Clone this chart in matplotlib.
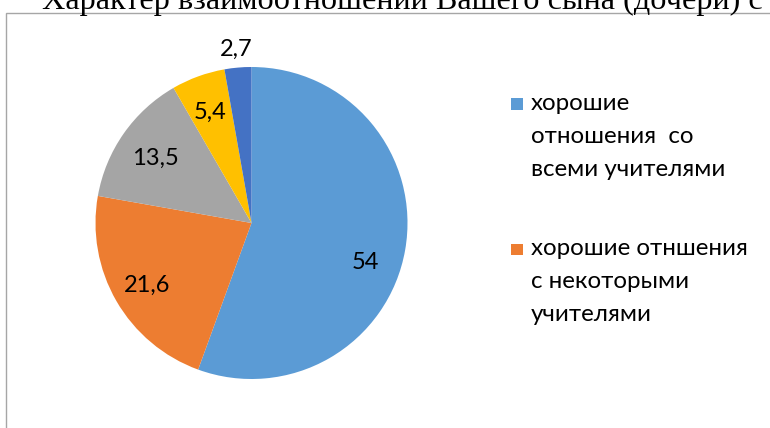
import matplotlib
matplotlib.use('Agg')
import matplotlib.pyplot as plt
from matplotlib.patches import Rectangle
import numpy as np

plt.rcParams['font.family'] = ['Lato', 'DejaVu Sans']

# данные диаграммы
title = 'Характер взаимоотношений Вашего сына (дочери) с'
values = [54, 21.6, 13.5, 5.4, 2.7]
value_labels = ['54', '21,6', '13,5', '5,4', '2,7']
legend_labels = [
    ['хорошие', 'отношения  со', 'всеми учителями'],
    ['хорошие отншения', 'с некоторыми', 'учителями'],
]
colors = ['#5B9BD5', '#ED7D31', '#A5A5A5', '#FFC000', '#4472C4']

W, H = 770, 428
fig = plt.figure(figsize=(W / 100, H / 100), dpi=100)


def fx(x):
    return x / W


def fy(y):
    return 1 - y / H


# рамка области диаграммы (уходит за край картинки)
fig.patches.append(Rectangle((fx(6), -0.5), 2, fy(12.7) + 0.5,
                             transform=fig.transFigure, fill=False,
                             edgecolor='#A6A6A6', linewidth=1))

# заголовок (обрезан сверху, как в оригинале)
fig.text(fx(402.5), fy(9), title, ha='center', va='baseline',
         family=['Liberation Serif'], fontsize=23.2)

# круговая диаграмма
cx, cy, r = 251.5, 223, 156
ax = fig.add_axes([fx(cx - r), fy(cy + r), 2 * r / W, 2 * r / H])
wedges, _ = ax.pie(values, colors=colors, startangle=90, counterclock=False,
                   radius=1, wedgeprops=dict(linewidth=0))
ax.set_xlim(-1, 1)
ax.set_ylim(-1, 1)
ax.axis('off')

# подписи значений
dist = [0.77, 0.77, 0.75, 0.77, 1.13]
shift = [-8, 0, 0, 0, 0]
for w, lab, d, s in zip(wedges, value_labels, dist, shift):
    ang = np.deg2rad((w.theta1 + w.theta2) / 2 + s)
    ax.text(d * np.cos(ang), d * np.sin(ang), lab, ha='center',
            va='center_baseline', fontsize=17, color='#000000')

# легенда
entry_top = [110, 255]
line_step = 33
for i, lines in enumerate(legend_labels):
    base = entry_top[i]
    fig.patches.append(Rectangle((fx(511), fy(base)), 11.5 / W, 11.5 / H,
                                 transform=fig.transFigure,
                                 facecolor=colors[i], edgecolor='none'))
    for j, txt in enumerate(lines):
        fig.text(fx(531), fy(base + j * line_step), txt, ha='left',
                 va='baseline', fontsize=17.4, color='#000000')

fig.savefig('out.png', dpi=100)
